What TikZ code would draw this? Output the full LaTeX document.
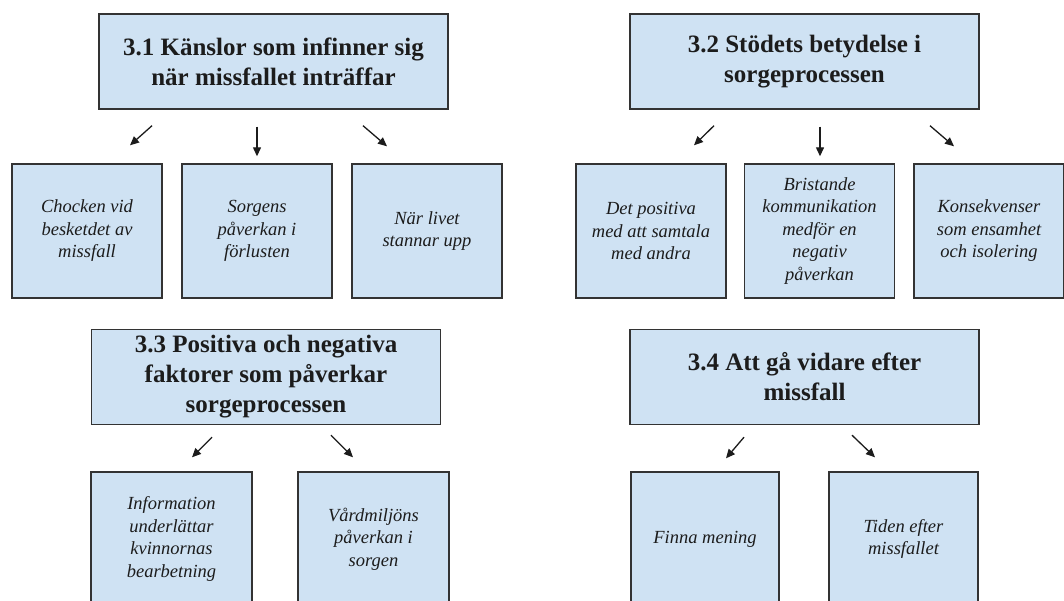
\documentclass[tikz,border=0pt]{standalone}
\usepackage{fontspec}
\setmainfont{Liberation Serif}
\usetikzlibrary{arrows.meta}

\definecolor{boxblue}{HTML}{CFE2F3}
\definecolor{boxline}{HTML}{333333}
\definecolor{ink}{HTML}{1C1C1C}

\begin{document}
\begin{tikzpicture}[
            x=1pt, y=-1pt,
            head/.style={
                draw=boxline, fill=boxblue, line width=1.4pt,
                minimum width=349pt, minimum height=95pt, inner sep=0pt,
                align=center, text=ink,
                font=\bfseries\fontsize{25}{30}\selectfont
            },
            theme/.style={
                draw=boxline, fill=boxblue, line width=1.4pt,
                minimum width=#1, minimum height=134pt, inner sep=0pt,
                align=center, text=ink,
                font=\itshape\fontsize{18.5}{22.5}\selectfont
            },
            theme/.default=150pt,
            link/.style={-{Triangle[length=9pt,width=8pt]}, line width=1.3pt, ink}
        ]
        \useasboundingbox (0,0) rectangle (1064,601);
        \fill[white] (0,0) rectangle (1064,601);
        \clip (0,0) rectangle (1064,601);

        % --- 3.1 ---
        \node[head] (t1) at (273.5,61.5) {3.1 Känslor som infinner sig\\när missfallet inträffar};
        \node[theme] (c11) at (87,231)  {Chocken vid\\besketdet av\\missfall};
        \node[theme] (c12) at (257,231) {Sorgens\\påverkan i\\förlusten};
        \node[theme] (c13) at (427,231) {När livet\\stannar upp};

        % --- 3.2 ---
        \node[head] (t2) at (804.5,61.5) {3.2 Stödets betydelse i\\sorgeprocessen};
        \node[theme] (c21) at (651,231)   {Det positiva\\med att samtala\\med andra};
        \node[theme] (c22) at (819.5,231) {Bristande\\kommunikation\\medför en\\negativ\\påverkan};
        \node[theme] (c23) at (989,231)   {Konsekvenser\\som ensamhet\\och isolering};

        % --- 3.3 ---
        \node[head] (t3) at (266,377) {3.3 Positiva och negativa\\faktorer som påverkar\\sorgeprocessen};
        \node[theme=161pt] (c31) at (171.5,539) {Information\\underlättar\\kvinnornas\\bearbetning};
        \node[theme=151pt] (c32) at (373.5,539) {Vårdmiljöns\\påverkan i\\sorgen};

        % --- 3.4 ---
        \node[head] (t4) at (804.5,377) {3.4 Att gå vidare efter\\missfall};
        \node[theme=148pt] (c41) at (705,539)   {Finna mening};
        \node[theme=149pt] (c42) at (903.5,539) {Tiden efter\\missfallet};

        % --- Arrows ---
        \draw[link] ([shift={(-121.5,16)}]t1.south) -- ([shift={(43,-18)}]c11.north);
        \draw[link] ([shift={(-16.5,17)}]t1.south)  -- ([shift={(0,-7)}]c12.north);
        \draw[link] ([shift={(89.5,16)}]t1.south)   -- ([shift={(-40,-17)}]c13.north);

        \draw[link] ([shift={(-90.5,16)}]t2.south) -- ([shift={(43,-18)}]c21.north);
        \draw[link] ([shift={(15.5,17)}]t2.south)  -- ([shift={(0.5,-7)}]c22.north);
        \draw[link] ([shift={(125.5,16)}]t2.south) -- ([shift={(-35,-17)}]c23.north);

        \draw[link] ([shift={(-54,12)}]t3.south) -- ([shift={(20.5,-14)}]c31.north);
        \draw[link] ([shift={(65,10)}]t3.south)  -- ([shift={(-20.5,-14)}]c32.north);

        \draw[link] ([shift={(-60.5,12)}]t4.south) -- ([shift={(21,-13)}]c41.north);
        \draw[link] ([shift={(47.5,10)}]t4.south)  -- ([shift={(-28.5,-14)}]c42.north);

    \end{tikzpicture}
\end{document}
